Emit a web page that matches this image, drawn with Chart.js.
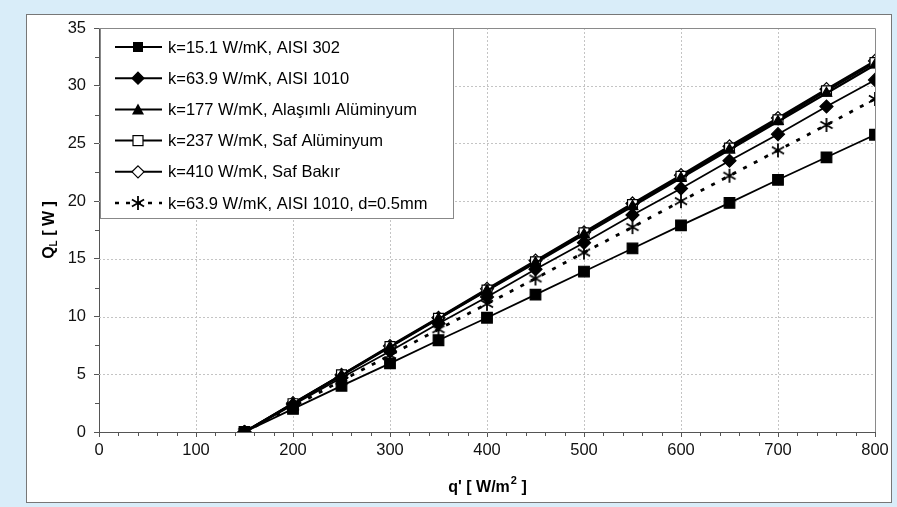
<!DOCTYPE html>
<html>
<head>
<meta charset="utf-8">
<script src="https://cdn.jsdelivr.net/npm/chart.js@4.4.1/dist/chart.umd.min.js"></script>
<style>
  html, body { margin: 0; padding: 0; background: #d9edf9; }
  canvas { display: block; }
</style>
</head>
<body>
<canvas id="qChart" width="897" height="507"></canvas>
<script>
// q' values (W/m2)
const qValues = [150, 200, 250, 300, 350, 400, 450, 500, 550, 600, 650, 700, 750, 800];

// Q_L (W)
const aisi302 = [0, 2.0, 4.0, 5.95, 7.95, 9.9, 11.9, 13.9, 15.9, 17.9, 19.85, 21.85, 23.8, 25.75];
const aisi1010 = [0, 2.35, 4.7, 7.0, 9.4, 11.7, 14.1, 16.4, 18.8, 21.1, 23.5, 25.8, 28.2, 30.5];
const alasimli = [0, 2.45, 4.9, 7.35, 9.8, 12.25, 14.65, 17.1, 19.55, 22.0, 24.45, 26.9, 29.35, 31.8];
const safAl = [0, 2.45, 4.95, 7.4, 9.85, 12.3, 14.75, 17.25, 19.7, 22.15, 24.6, 27.05, 29.55, 32.0];
const safBakir = [0, 2.5, 4.95, 7.45, 9.9, 12.4, 14.85, 17.3, 19.8, 22.25, 24.75, 27.2, 29.7, 32.15];
const aisi1010thin = [0, 2.2, 4.45, 6.65, 8.9, 11.1, 13.3, 15.55, 17.75, 20.0, 22.2, 24.4, 26.6, 28.85];

const seriesNames = [
    'k=15.1 W/mK, AISI 302',
    'k=63.9 W/mK, AISI 1010',
    'k=177 W/mK, Alaşımlı Alüminyum',
    'k=237 W/mK, Saf Alüminyum',
    'k=410 W/mK, Saf Bakır',
    'k=63.9 W/mK, AISI 1010, d=0.5mm'
];
const xTicks = [0, 100, 200, 300, 400, 500, 600, 700, 800];
const yTicks = [0, 5, 10, 15, 20, 25, 30, 35];

const FONT = '"Liberation Sans", Arial, sans-serif';

// six-armed asterisk marker
function makeStar(size) {
    let c = document.createElement('canvas');
    c.width = size; c.height = size;
    let g = c.getContext('2d');
    let m = size / 2, r = size / 2 - 1;
    g.strokeStyle = '#000';
    g.lineWidth = 1.8;
    g.beginPath();
    for (let i = 0; i < 3; i++) {
        let a = Math.PI / 2 + i * Math.PI / 3;
        g.moveTo(m + r * Math.cos(a), m + r * Math.sin(a));
        g.lineTo(m - r * Math.cos(a), m - r * Math.sin(a));
    }
    g.stroke();
    return c;
}
const starImg = makeStar(16);

function toPoints(ys) {
    return qValues.map((x, i) => ({ x: x, y: ys[i] }));
}

// marker drawing for the legend box
function drawMarker(ctx, style, x, y) {
    ctx.save();
    ctx.lineWidth = 1.2;
    ctx.strokeStyle = '#000';
    if (style === 'square') {
        ctx.fillStyle = '#000'; ctx.fillRect(x - 5, y - 5, 10, 10);
    } else if (style === 'diamond' || style === 'openDiamond') {
        ctx.beginPath();
        ctx.moveTo(x, y - 6); ctx.lineTo(x + 6, y); ctx.lineTo(x, y + 6); ctx.lineTo(x - 6, y); ctx.closePath();
        ctx.fillStyle = style === 'diamond' ? '#000' : '#fff';
        ctx.fill(); ctx.stroke();
    } else if (style === 'triangle') {
        ctx.beginPath();
        ctx.moveTo(x, y - 6); ctx.lineTo(x + 6, y + 5); ctx.lineTo(x - 6, y + 5); ctx.closePath();
        ctx.fillStyle = '#000'; ctx.fill();
    } else if (style === 'openSquare') {
        ctx.fillStyle = '#fff'; ctx.fillRect(x - 5, y - 5, 10, 10);
        ctx.strokeRect(x - 5, y - 5, 10, 10);
    } else if (style === 'star') {
        ctx.drawImage(starImg, x - 8, y - 8);
    }
    ctx.restore();
}

const legendStyles = ['square', 'diamond', 'triangle', 'openSquare', 'openDiamond', 'star'];

// white panel behind everything
const panelPlugin = {
    id: 'panel',
    beforeDraw(chart) {
        let ctx = chart.ctx;
        ctx.save();
        ctx.fillStyle = '#d9edf9';
        ctx.fillRect(0, 0, chart.width, chart.height);
        ctx.fillStyle = '#ffffff';
        ctx.fillRect(26, 14, 866, 489);
        ctx.strokeStyle = '#777';
        ctx.lineWidth = 1;
        ctx.strokeRect(26.5, 14.5, 865, 488);
        ctx.restore();
    }
};

// dotted grid, minor ticks and plot frame
const gridPlugin = {
    id: 'grid',
    beforeDatasetsDraw(chart) {
        let ctx = chart.ctx, a = chart.chartArea;
        let xs = chart.scales.x, ys = chart.scales.y;
        ctx.save();
        ctx.strokeStyle = '#c4c4c4';
        ctx.lineWidth = 1;
        ctx.setLineDash([2, 2]);
        xTicks.slice(1, -1).forEach(v => {
            let px = Math.round(xs.getPixelForValue(v)) + 0.5;
            ctx.beginPath(); ctx.moveTo(px, a.top); ctx.lineTo(px, a.bottom); ctx.stroke();
        });
        yTicks.slice(1, -1).forEach(v => {
            let py = Math.round(ys.getPixelForValue(v)) + 0.5;
            ctx.beginPath(); ctx.moveTo(a.left, py); ctx.lineTo(a.right, py); ctx.stroke();
        });
        ctx.setLineDash([]);
        // frame top / right
        ctx.strokeStyle = '#8a8a8a';
        ctx.beginPath();
        ctx.moveTo(a.left, Math.round(a.top) + 0.5);
        ctx.lineTo(Math.round(a.right) + 0.5, Math.round(a.top) + 0.5);
        ctx.lineTo(Math.round(a.right) + 0.5, a.bottom);
        ctx.stroke();
        // minor ticks
        ctx.strokeStyle = '#555';
        for (let v = 20; v < 800; v += 20) {
            if (v % 100 === 0) continue;
            let px = Math.round(xs.getPixelForValue(v)) + 0.5;
            ctx.beginPath(); ctx.moveTo(px, a.bottom); ctx.lineTo(px, a.bottom + 4); ctx.stroke();
        }
        for (let v = 2.5; v < 35; v += 5) {
            let py = Math.round(ys.getPixelForValue(v)) + 0.5;
            ctx.beginPath(); ctx.moveTo(a.left, py); ctx.lineTo(a.left - 4, py); ctx.stroke();
        }
        ctx.restore();
    }
};

// axis titles and the boxed legend
const textPlugin = {
    id: 'texts',
    afterDraw(chart) {
        let ctx = chart.ctx, a = chart.chartArea;
        ctx.save();
        ctx.fillStyle = '#000';
        // x title: q' [ W/m2 ]
        let cx = (a.left + a.right) / 2;
        ctx.textBaseline = 'alphabetic';
        let p1 = "q' [ W/m", p2 = ' ]';
        ctx.font = 'bold 16px ' + FONT;
        let w1 = ctx.measureText(p1).width, w3 = ctx.measureText(p2).width;
        ctx.font = 'bold 11px ' + FONT;
        let w2 = ctx.measureText('2').width;
        let sx = cx - (w1 + w2 + w3) / 2, by = 492;
        ctx.font = 'bold 16px ' + FONT;
        ctx.textAlign = 'left';
        ctx.fillText(p1, sx, by);
        ctx.font = 'bold 11px ' + FONT;
        ctx.fillText('2', sx + w1 + 1, by - 8);
        ctx.font = 'bold 16px ' + FONT;
        ctx.fillText(p2, sx + w1 + w2 + 1, by);

        // y title: QL [ W ]
        let cy = (a.top + a.bottom) / 2;
        ctx.translate(54, cy);
        ctx.rotate(-Math.PI / 2);
        ctx.font = 'bold 16px ' + FONT;
        let q = 'Q', rest = ' [ W ]';
        let wq = ctx.measureText(q).width, wr = ctx.measureText(rest).width;
        ctx.font = 'bold 10px ' + FONT;
        let wl = ctx.measureText('L').width;
        let tx = -(wq + wl + wr) / 2;
        ctx.font = 'bold 16px ' + FONT;
        ctx.fillText(q, tx, 0);
        ctx.font = 'bold 10px ' + FONT;
        ctx.fillText('L', tx + wq, 3);
        ctx.font = 'bold 16px ' + FONT;
        ctx.fillText(rest, tx + wq + wl, 0);
        ctx.restore();

        // legend box
        ctx.save();
        let lx = 100, ly = 28, lw = 353, lh = 190;
        ctx.fillStyle = '#fff';
        ctx.fillRect(lx, ly, lw, lh);
        ctx.strokeStyle = '#888';
        ctx.lineWidth = 1;
        ctx.strokeRect(lx + 0.5, ly + 0.5, lw, lh);
        ctx.font = '16.5px ' + FONT;
        ctx.textBaseline = 'middle';
        ctx.fillStyle = '#000';
        seriesNames.forEach((name, i) => {
            let y = 47 + i * 31.2;
            ctx.strokeStyle = '#000';
            ctx.lineWidth = i === 5 ? 2.5 : 2;
            ctx.setLineDash(i === 5 ? [4, 7] : []);
            ctx.beginPath(); ctx.moveTo(115, y); ctx.lineTo(162, y); ctx.stroke();
            ctx.setLineDash([]);
            drawMarker(ctx, legendStyles[i], 138, y);
            ctx.fillText(name, 168, y + 1);
        });
        ctx.restore();
    }
};

function dataset(label, ys, style, radius, fill, width, dash) {
    return {
        label: label,
        data: toPoints(ys),
        borderColor: '#000',
        borderWidth: width,
        borderDash: dash || [],
        pointStyle: style,
        pointRadius: radius,
        pointBackgroundColor: fill,
        pointBorderColor: '#000',
        pointBorderWidth: 1.2,
        tension: 0
    };
}

let ctx = document.getElementById('qChart').getContext('2d');
let qChart = new Chart(ctx, {
    type: 'line',
    data: {
        datasets: [
            dataset(seriesNames[0], aisi302, 'rect', 7.5, '#000', 1.8),
            dataset(seriesNames[1], aisi1010, 'rectRot', 6.5, '#000', 1.8),
            dataset(seriesNames[2], alasimli, 'triangle', 6, '#000', 2.2),
            dataset(seriesNames[3], safAl, 'rect', 7, '#fff', 2.2),
            dataset(seriesNames[4], safBakir, 'rectRot', 6.5, '#fff', 2.2),
            dataset(seriesNames[5], aisi1010thin, starImg, 8, '#000', 2.8, [4, 8])
        ]
    },
    options: {
        responsive: false,
        animation: false,
        layout: { padding: { left: 0, top: 28, right: 22, bottom: 0 } },
        plugins: {
            legend: { display: false },
            tooltip: { enabled: false }
        },
        scales: {
            x: {
                type: 'linear',
                min: 0,
                max: 800,
                afterBuildTicks(scale) { scale.ticks = xTicks.map(v => ({ value: v })); },
                afterFit(scale) { scale.height = 75; },
                ticks: { color: '#111', font: { family: FONT, size: 16.5 }, padding: 4, maxRotation: 0 },
                grid: { drawOnChartArea: false, drawTicks: true, tickLength: 5, tickColor: '#555' },
                border: { display: true, color: '#555', width: 1 }
            },
            y: {
                type: 'linear',
                min: 0,
                max: 35,
                afterBuildTicks(scale) { scale.ticks = yTicks.map(v => ({ value: v })); },
                afterFit(scale) { scale.width = 99; },
                ticks: { color: '#111', font: { family: FONT, size: 16.5 }, padding: 8 },
                grid: { drawOnChartArea: false, drawTicks: true, tickLength: 5, tickColor: '#555' },
                border: { display: true, color: '#555', width: 1 }
            }
        }
    },
    plugins: [panelPlugin, gridPlugin, textPlugin]
});
</script>
</body>
</html>
